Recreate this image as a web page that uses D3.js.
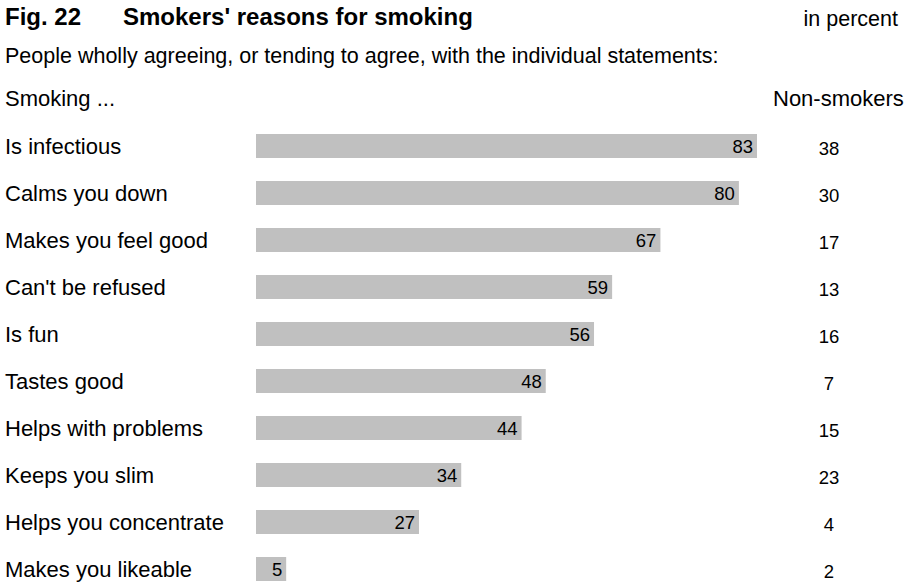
<!DOCTYPE html>
<html>
<head>
<meta charset="utf-8">
<script src="https://cdn.jsdelivr.net/npm/d3@7"></script>
<style>
  html, body { margin: 0; padding: 0; background: #fff; }
  svg { display: block; font-family: "Liberation Sans", Arial, sans-serif; }
</style>
</head>
<body>
<svg id="chart" width="905" height="583"></svg>
<script>
// Statements and the share of people agreeing with each (in percent)
const statements = [
  "Is infectious",
  "Calms you down",
  "Makes you feel good",
  "Can't be refused",
  "Is fun",
  "Tastes good",
  "Helps with problems",
  "Keeps you slim",
  "Helps you concentrate",
  "Makes you likeable"
];
const smokers = [83, 80, 67, 59, 56, 48, 44, 34, 27, 5];
const nonSmokers = [38, 30, 17, 13, 16, 7, 15, 23, 4, 2];

const svg = d3.select("#chart");

// Header texts
svg.append("text").attr("x", 5).attr("y", 25)
  .attr("font-size", 24).attr("font-weight", "bold").attr("fill", "#000")
  .text("Fig. 22");
svg.append("text").attr("x", 123).attr("y", 25)
  .attr("font-size", 24).attr("font-weight", "bold").attr("fill", "#000")
  .text("Smokers' reasons for smoking");
svg.append("text").attr("x", 898).attr("y", 26).attr("text-anchor", "end")
  .attr("font-size", 21.5).attr("fill", "#000")
  .text("in percent");
svg.append("text").attr("x", 5).attr("y", 63)
  .attr("font-size", 21.5).attr("fill", "#000")
  .text("People wholly agreeing, or tending to agree, with the individual statements:");
svg.append("text").attr("x", 5).attr("y", 106)
  .attr("font-size", 22).attr("fill", "#000")
  .text("Smoking ...");
svg.append("text").attr("x", 773).attr("y", 106)
  .attr("font-size", 22).attr("fill", "#000")
  .text("Non-smokers");

// Scales: bar length in percent, row centres by statement
const x = d3.scaleLinear().domain([0, 83]).range([256, 757]);
const y = d3.scalePoint().domain(statements).range([146, 569]);
const barH = 24;

const rows = svg.append("g").selectAll("g")
  .data(statements.map((s, i) => ({ s, v: smokers[i], n: nonSmokers[i] })))
  .join("g");

rows.append("rect")
  .attr("x", x(0))
  .attr("y", d => y(d.s) - barH / 2)
  .attr("width", d => x(d.v) - x(0))
  .attr("height", barH)
  .attr("fill", "#c0c0c0");

rows.append("text")
  .attr("x", 5)
  .attr("y", d => y(d.s) + 8)
  .attr("font-size", 22).attr("fill", "#000")
  .text(d => d.s);

rows.append("text")
  .attr("x", d => x(d.v) - 4)
  .attr("y", d => y(d.s) + 7)
  .attr("text-anchor", "end")
  .attr("font-size", 18.5).attr("fill", "#000")
  .text(d => d.v);

rows.append("text")
  .attr("x", 829)
  .attr("y", d => y(d.s) + 9)
  .attr("text-anchor", "middle")
  .attr("font-size", 18.5).attr("fill", "#000")
  .text(d => d.n);
</script>
</body>
</html>
